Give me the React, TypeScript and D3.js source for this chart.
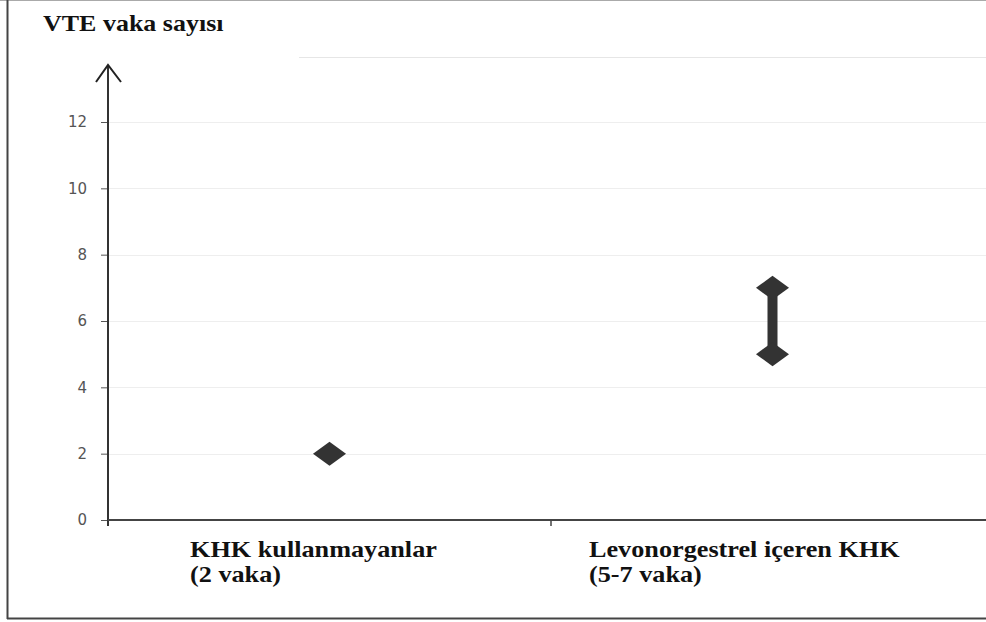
import React, { useEffect, useRef } from 'react';
import * as d3 from 'd3';

const categories = ['KHK kullanmayanlar', 'Levonorgestrel içeren KHK'];
const subLabels = ['(2 vaka)', '(5-7 vaka)'];
const lowValues = [2, 5];
const highValues = [2, 7];
const yTicks = [0, 2, 4, 6, 8, 10, 12];
const gridTop = 14;

const App: React.FC = () => {
  const svgRef = useRef<SVGSVGElement | null>(null);

  useEffect(() => {
    if (!svgRef.current) return;
    const svg = d3.select(svgRef.current);
    svg.selectAll('*').remove();

    const width = 986;
    const height = 622;
    const x0 = 108;
    const y = d3.scaleLinear().domain([0, 12]).range([520, 122]);
    const x = d3.scaleBand<string>().domain(categories).range([x0, 994]).padding(0);
    const serif = 'Liberation Serif, Times New Roman, serif';

    svg.attr('width', width).attr('height', height);

    // frame
    svg.append('rect').attr('x', 0).attr('y', 0).attr('width', width).attr('height', height).attr('fill', '#fff');
    svg.append('line').attr('x1', 0).attr('x2', width).attr('y1', 0.5).attr('y2', 0.5).attr('stroke', '#aaa');
    svg.append('line').attr('x1', 7.5).attr('x2', 7.5).attr('y1', 0).attr('y2', 619).attr('stroke', '#444').attr('stroke-width', 2);
    svg.append('line').attr('x1', 7).attr('x2', width).attr('y1', 618.5).attr('y2', 618.5).attr('stroke', '#444').attr('stroke-width', 2);

    // grid
    svg.append('g')
      .selectAll('line')
      .data(yTicks.filter(t => t > 0))
      .enter()
      .append('line')
      .attr('x1', x0)
      .attr('x2', width)
      .attr('y1', d => Math.round(y(d)) + 0.5)
      .attr('y2', d => Math.round(y(d)) + 0.5)
      .attr('stroke', '#eeeeee');
    svg.append('line')
      .attr('x1', 299).attr('x2', width)
      .attr('y1', Math.round(y(gridTop)) + 1.5).attr('y2', Math.round(y(gridTop)) + 1.5)
      .attr('stroke', '#e6e6e6');

    // y axis
    const yAxis = d3.axisLeft(y).tickValues(yTicks).tickSize(7).tickPadding(14).tickFormat(d3.format('d'));
    const gy = svg.append('g').attr('transform', `translate(${x0},0)`).call(yAxis);
    gy.select('.domain').remove();
    gy.selectAll('.tick line').attr('stroke', '#555');
    gy.selectAll('.tick text')
      .attr('fill', '#555')
      .attr('font-family', 'DejaVu Sans, sans-serif')
      .attr('font-size', 15);
    svg.append('line').attr('x1', x0).attr('x2', x0).attr('y1', y(0) + 6).attr('y2', 65)
      .attr('stroke', '#333').attr('stroke-width', 2);
    svg.append('path').attr('d', `M${x0 - 12},82 L${x0},65 L${x0 + 13},82`)
      .attr('fill', 'none').attr('stroke', '#222').attr('stroke-width', 2);

    // x axis
    svg.append('line').attr('x1', x0).attr('x2', width).attr('y1', y(0)).attr('y2', y(0))
      .attr('stroke', '#444').attr('stroke-width', 2);
    svg.append('line')
      .attr('x1', (x(categories[1]) ?? 0)).attr('x2', (x(categories[1]) ?? 0))
      .attr('y1', y(0)).attr('y2', y(0) + 6)
      .attr('stroke', '#444').attr('stroke-width', 1.5);

    // marks
    const diamond = (cx: number, cy: number) =>
      `M${cx},${cy - 12} L${cx + 16.5},${cy} L${cx},${cy + 12} L${cx - 16.5},${cy} Z`;
    const marks = svg.append('g');
    categories.forEach((c, i) => {
      const cx = (x(c) ?? 0) + x.bandwidth() / 2;
      if (highValues[i] !== lowValues[i]) {
        marks.append('rect')
          .attr('x', cx - 5).attr('y', y(highValues[i]))
          .attr('width', 10).attr('height', y(lowValues[i]) - y(highValues[i]))
          .attr('fill', '#333');
      }
      marks.append('path').attr('d', diamond(cx, y(lowValues[i]))).attr('fill', '#333');
      if (highValues[i] !== lowValues[i]) {
        marks.append('path').attr('d', diamond(cx, y(highValues[i]))).attr('fill', '#333');
      }
    });

    // category labels (slightly stretched, as in the scanned original)
    const labelX = [190, 589];
    categories.forEach((c, i) => {
      const t = svg.append('text')
        .attr('transform', `translate(${labelX[i]},557) scale(1.14,1)`)
        .attr('font-family', serif)
        .attr('font-weight', 'bold').attr('font-size', 23).attr('fill', '#111');
      t.append('tspan').attr('x', 0).attr('y', 0).text(c);
      t.append('tspan').attr('x', 0).attr('y', 25).text(subLabels[i]);
    });

    // title
    svg.append('text')
      .attr('transform', 'translate(43,31) scale(1.13,1)')
      .attr('font-family', serif)
      .attr('font-weight', 'bold').attr('font-size', 23).attr('fill', '#111')
      .text('VTE vaka sayısı');
  }, []);

  return (
    <svg ref={svgRef} style={{ position: 'absolute', left: 0, top: 0, display: 'block' }}></svg>
  );
};

export default App;
